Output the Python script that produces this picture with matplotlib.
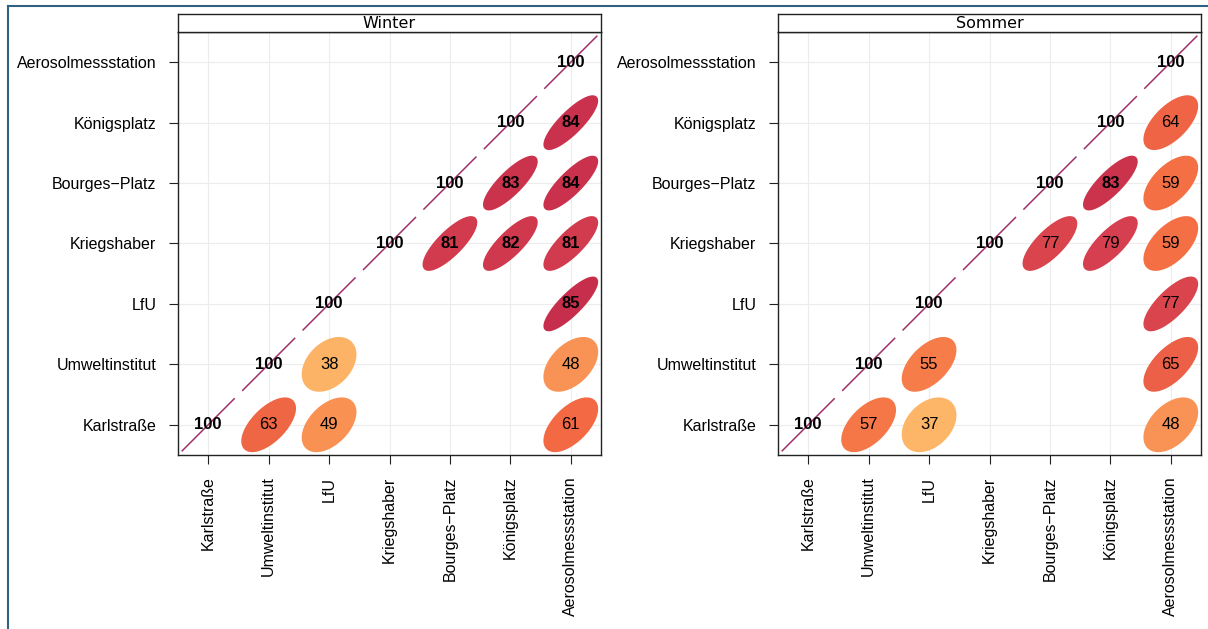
import numpy as np
import matplotlib
matplotlib.use("Agg")
import matplotlib.pyplot as plt
from matplotlib.colors import LinearSegmentedColormap
from matplotlib.lines import Line2D

# Stations, bottom/left to top/right
STATIONS = ["Karlstraße", "Umweltinstitut", "LfU", "Kriegshaber",
            "Bourges\u2212Platz", "Königsplatz", "Aerosolmessstation"]

# Station pairs (column index, row index) that have a correlation
PAIR_X = [1, 2, 6, 2, 6, 6, 4, 5, 6, 5, 6, 6]
PAIR_Y = [0, 0, 0, 1, 1, 2, 3, 3, 3, 4, 4, 5]

# Correlation coefficients (x100) per season
WINTER_R = [63, 49, 61, 38, 48, 85, 81, 82, 81, 83, 84, 84]
SOMMER_R = [57, 37, 48, 55, 65, 77, 77, 79, 59, 83, 59, 64]

SEASONS = ["Winter", "Sommer"]

# Spectral palette, blue (-1) to dark red (+1)
SPECTRAL = ["#5E4FA2", "#3288BD", "#66C2A5", "#ABDDA4", "#E6F598", "#FFFFBF",
            "#FEE08B", "#FDAE61", "#F46D43", "#D53E4F", "#9E0142"]
cmap = LinearSegmentedColormap.from_list("spectral_r", SPECTRAL)

W, H = 1208, 629
FONT = "Liberation Sans"


def fx(px):
    return px / W


def fy(py):
    return 1 - py / H


def draw_panel(fig, left_px, title, values):
    top_px, bottom_px, right_px = 32, 455, left_px + 423
    ax = fig.add_axes([fx(left_px), fy(bottom_px),
                       fx(right_px - left_px), (bottom_px - top_px) / H])
    n = len(STATIONS)
    ax.set_xlim(0.5, n + 0.5)
    ax.set_ylim(0.5, n + 0.5)
    pos = np.arange(1, n + 1)

    for p in pos:
        ax.axvline(p, color="#ececec", lw=0.8, zorder=0)
        ax.axhline(p, color="#ececec", lw=0.8, zorder=0)

    # diagonal: one dash per cell, "100" in each diagonal cell
    g = 0.07
    for p in pos:
        ax.plot([p - 0.5 + g, p + 0.5 - g], [p - 0.5 + g, p + 0.5 - g],
                color="#a0306a", lw=1.1, zorder=2)
        ax.text(p, p, "100", ha="center", va="center", fontsize=12,
                fontweight="bold", family=FONT, zorder=4)

    t = np.linspace(0, 2 * np.pi, 120)
    for xi, yi, v in zip(PAIR_X, PAIR_Y, values):
        r = v / 100
        d = np.arccos(r)
        cx, cy = pos[xi], pos[yi]
        ex = cx + 0.43 * np.cos(t + d / 2)
        ey = cy + 0.43 * np.cos(t - d / 2)
        col = cmap((r + 1) / 2)
        ax.fill(ex, ey, facecolor=col, edgecolor=col, lw=2.0, zorder=3)
        ax.text(cx, cy, f"{v}", ha="center", va="center", fontsize=12,
                fontweight="bold" if v >= 80 else "normal", family=FONT,
                zorder=4)

    ax.set_xticks(pos)
    ax.set_yticks(pos)
    ax.set_xticklabels(STATIONS, rotation=90, family=FONT, fontsize=11.5)
    ax.set_yticklabels(STATIONS, family=FONT, fontsize=11.5)
    ax.tick_params(direction="out", length=6.5, width=0.8, pad=9,
                   colors="#222222", labelcolor="black")
    for s in ax.spines.values():
        s.set_color("#222222")
        s.set_linewidth(1.0)

    # strip with the season name
    sax = fig.add_axes([fx(left_px), fy(bottom_px) + (bottom_px - top_px) / H,
                        fx(right_px - left_px), 18 / H])
    sax.set_xticks([])
    sax.set_yticks([])
    for s in sax.spines.values():
        s.set_color("#222222")
        s.set_linewidth(1.0)
    sax.text(0.5, 0.45, title, ha="center", va="center", fontsize=11.5,
             family="DejaVu Sans", transform=sax.transAxes)
    return ax


fig = plt.figure(figsize=(W / 100, H / 100), dpi=100)
fig.patch.set_facecolor("white")

draw_panel(fig, 178, SEASONS[0], WINTER_R)
draw_panel(fig, 778, SEASONS[1], SOMMER_R)

# thin frame on the top and left edge
frame_col = "#2f6282"
fig.add_artist(Line2D([fx(8), 1], [fy(6), fy(6)], color=frame_col, lw=1.5))
fig.add_artist(Line2D([fx(8), fx(8)], [0, fy(6)], color=frame_col, lw=1.5))

fig.savefig("out.png", dpi=100, facecolor="white")
